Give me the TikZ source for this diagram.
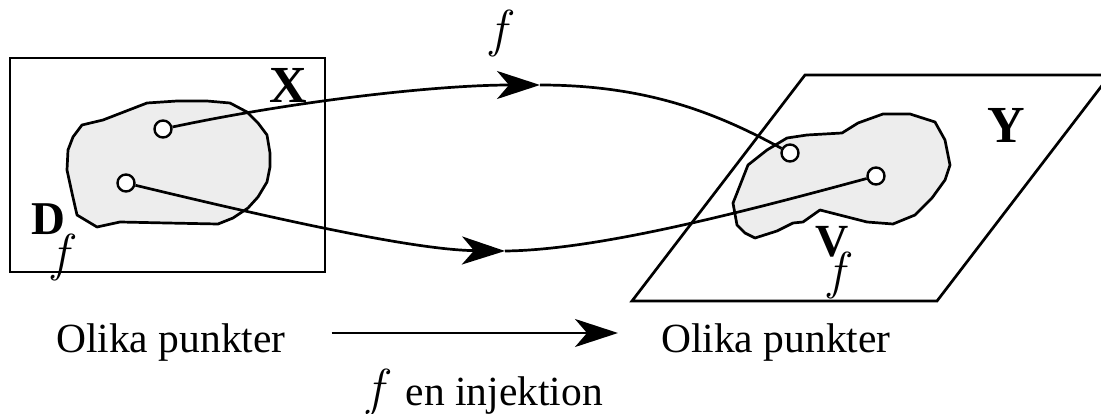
\documentclass[tikz,border=0pt]{standalone}
\usepackage{fontspec}
\setmainfont{Liberation Serif}
\newfontfamily\lmfont{Latin Modern Roman}
\usetikzlibrary{arrows.meta}
\newcommand{\ff}{{\fontsize{52}{60}\selectfont\lmfont\mdseries\itshape f}}
\begin{document}
\begin{tikzpicture}[x=1pt,y=-1pt,
 ln/.style={line width=2.7pt},
 blob/.style={ln, fill=black!7, line join=round},
 pt/.style={circle, draw, line width=2.4pt, fill=white, minimum size=17pt, inner sep=0pt},
 tip/.style={-{Stealth[length=43pt,width=28pt,inset=12pt]}},
 lbl/.style={inner sep=0pt, font=\fontsize{41.5}{50}\selectfont},
 bold/.style={inner sep=0pt, font=\fontsize{52}{60}\selectfont\bfseries},
]
\useasboundingbox (0,0) rectangle (1101,414);
% frames
\draw[ln] (10,58) rectangle (325,272);
\draw[ln, line join=miter] (632,301) -- (937,301) -- (1110,75) -- (805,75) -- cycle;
% blobs
\draw[blob] (82,125) -- (103,120) -- (147,103) -- (177,101) -- (207,101) -- (230,103)
  -- (247,112) -- (258,123) -- (267,135) -- (270,153) -- (270,167) -- (267,182)
  -- (258,197) -- (248,208) -- (233,218) -- (218,224) -- (167,223) -- (120,222)
  -- (97,227) -- (77,215) -- (72,193) -- (67,170) -- (68,150) -- (73,137) -- cycle;
\draw[blob] (787,138) -- (807,135) -- (842,133) -- (858,123) -- (883,114) -- (910,114)
  -- (935,122) -- (945,140) -- (950,165) -- (945,180) -- (932,198) -- (915,215)
  -- (893,224) -- (867,222) -- (820,210) -- (803,222) -- (793,223) -- (777,231)
  -- (755,238) -- (745,233) -- (737,225) -- (733,203) -- (737,193) -- (748,165)
  -- (767,150) -- cycle;
% points
\node[pt] (a1) at (163,129) {};
\node[pt] (a2) at (126,183) {};
\node[pt] (b1) at (790,153) {};
\node[pt] (b2) at (876,176) {};
% mapping curves
\coordinate (m1) at (540,85);
\coordinate (m2) at (505,251);
\draw[ln, tip] (a1) .. controls (300,100) and (440,85) .. (m1);
\draw[ln] (m1) .. controls (650,85) and (720,115) .. (b1);
\draw[ln, tip] (a2) .. controls (300,225) and (420,250) .. (m2);
\draw[ln] (m2) .. controls (600,250) and (750,210) .. (b2);
% labels
\node[bold, anchor=base west] (X) at (269,103) {X};
\node[bold, anchor=base] (Y) at (1006,143) {Y};
\node[anchor=base west, inner sep=0pt] (D) at (31,235)
  {\fontsize{47}{50}\selectfont\bfseries D\kern-13pt\raisebox{-36pt}{\ff}};
\node[anchor=base west, inner sep=0pt] (V) at (815,257)
  {\fontsize{46}{50}\selectfont\bfseries V\kern-20pt\raisebox{-32pt}{\ff}};
\node[anchor=base west, inner sep=0pt] (ftop) at (490,47) {\ff};
\node[lbl, anchor=base west] (o1) at (56,352) {Olika punkter};
\node[lbl, anchor=base west] (o2) at (661,352) {Olika punkter};
\node[anchor=base west, inner sep=0pt] (inj) at (367,405)
  {\ff\hspace{23pt}\fontsize{41.5}{50}\selectfont en injektion};
\draw[ln, tip] ([xshift=46pt,yshift=19pt]o1.base east) -- ([xshift=-43pt,yshift=19pt]o2.base west);
\end{tikzpicture}
\end{document}
